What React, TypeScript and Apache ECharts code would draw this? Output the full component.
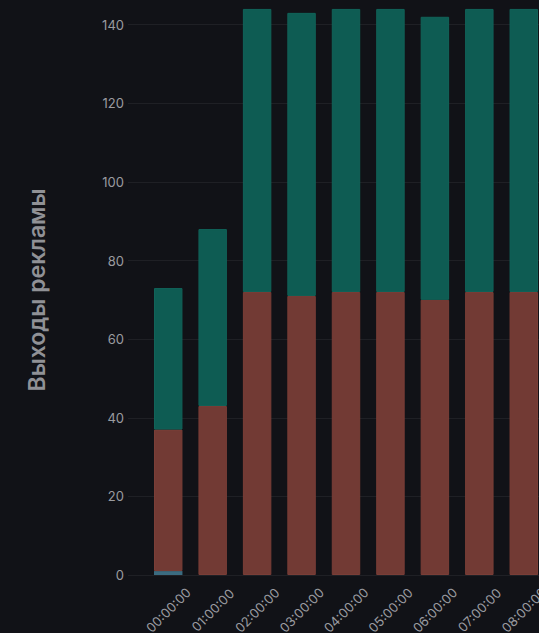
import React, { useEffect, useRef } from "react";
import * as echarts from "echarts";

const categories = ["00:00:00", "01:00:00", "02:00:00", "03:00:00", "04:00:00", "05:00:00", "06:00:00", "07:00:00", "08:00:00"];
const blueValues = [1, 0, 0, 0, 0, 0, 0, 0, 0];
const redValues = [36, 43, 72, 71, 72, 72, 70, 72, 72];
const tealValues = [36, 45, 72, 72, 72, 72, 72, 72, 72];
const yTitle = "Выходы рекламы";

const FONT = "Inter, 'Liberation Sans', Helvetica, Arial, sans-serif";
const GRID = "#1f2025";
const TEXT = "#9a9ba0";

export default function App() {
  const ref = useRef<HTMLDivElement>(null);
  useEffect(() => {
    if (!ref.current) return;
    const chart = echarts.init(ref.current, null, { renderer: "svg" });
    chart.setOption({
      animation: false,
      backgroundColor: "#111217",
      textStyle: { fontFamily: FONT },
      grid: {
        left: 146,
        right: -7,
        top: 5,
        bottom: 58,
        containLabel: false,
        outerBoundsMode: "none",
      },
      xAxis: {
        type: "category",
        data: categories,
        axisLine: { show: false },
        axisTick: { show: false },
        axisLabel: {
          rotate: 45,
          align: "center",
          verticalAlign: "middle",
          margin: 35,
          color: TEXT,
          fontSize: 13,
          fontFamily: FONT,
          interval: 0,
          hideOverlap: false,
        },
      },
      yAxis: {
        type: "value",
        min: 0,
        max: 145,
        interval: 20,
        name: yTitle,
        nameLocation: "middle",
        nameGap: 98,
        nameTextStyle: { color: "#909196", fontSize: 23, fontWeight: 600, fontFamily: FONT },
        axisLine: { show: false },
        axisTick: { show: true, length: 18, lineStyle: { color: GRID } },
        axisLabel: { color: TEXT, fontSize: 13, margin: 22, fontFamily: FONT, showMaxLabel: false },
        splitLine: { show: true, showMaxLine: false, lineStyle: { color: GRID, width: 1 } },
      },
      series: [
        {
          type: "bar",
          stack: "total",
          data: blueValues,
          barCategoryGap: "36%",
          itemStyle: { color: "#3b6b80" },
        },
        {
          type: "bar",
          stack: "total",
          data: redValues,
          barCategoryGap: "36%",
          itemStyle: { color: "#723a34", borderColor: "#7a3e37", borderWidth: 1 },
        },
        {
          type: "bar",
          stack: "total",
          data: tealValues,
          barCategoryGap: "36%",
          itemStyle: { color: "#0e5c53", borderColor: "#116359", borderWidth: 1 },
        },
      ],
    });
    return () => chart.dispose();
  }, []);
  return (
    <div
      ref={ref}
      style={{ position: "fixed", left: 0, top: 0, width: 539, height: 633 }}
    />
  );
}
